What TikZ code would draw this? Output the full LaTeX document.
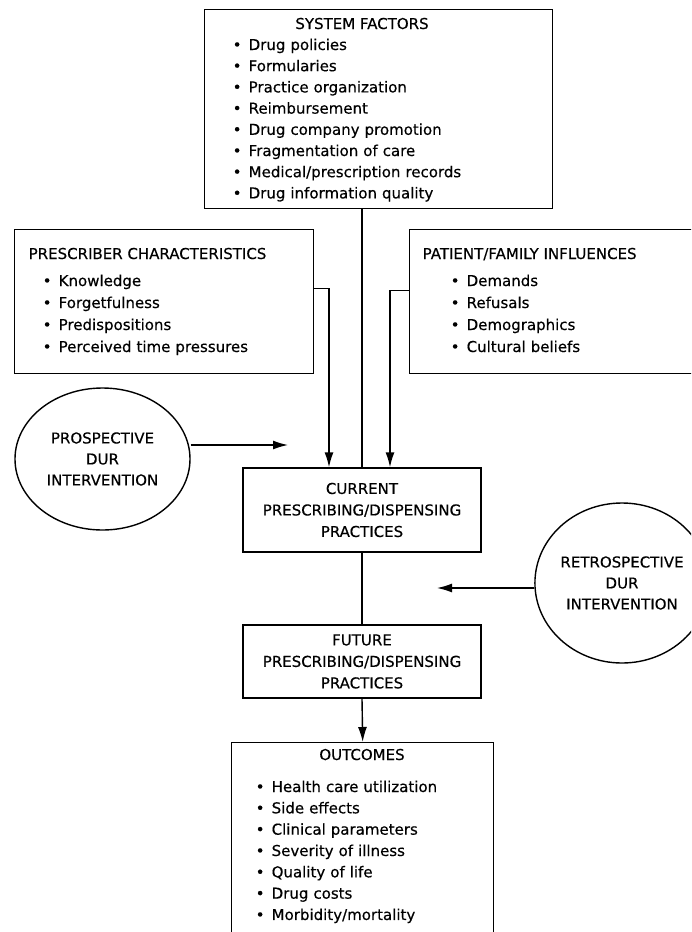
\documentclass[tikz,border=0pt]{standalone}
\usepackage{fontspec}
\setmainfont{DejaVu Sans}[FakeBold=0.4]
\usetikzlibrary{shapes.geometric,arrows.meta}
\newcommand{\bul}{\makebox[16pt][l]{\textbullet}}

\begin{document}
\begin{tikzpicture}[x=1pt,y=-1pt,line width=1.4pt,
  box/.style={draw,rectangle,anchor=north west,inner sep=0pt},
  proc/.style={draw,rectangle,align=center,minimum width=238pt,font=\fontsize{15}{21.5}\selectfont},
  oval/.style={draw,ellipse,align=center,inner sep=0pt,font=\fontsize{15}{21}\selectfont},
  head/.style={inner sep=0pt,font=\fontsize{15}{18}\selectfont},
  items/.style={inner sep=0pt,text width=250pt,align=left,anchor=base west,font=\fontsize{15}{21.2}\selectfont},
  arr/.style={-{Latex[length=15pt,width=9pt]}}]
\useasboundingbox (0,0) rectangle (691,932);
\clip (0,0) rectangle (691,932);
\node[box,minimum width=348pt,minimum height=199pt] (sys) at (204,9) {};
\node[head,anchor=base] (systitle) at (362,29) {SYSTEM FACTORS};
\node[items] (syslist) at (232,50) {\bul Drug policies\\ \bul Formularies\\ \bul Practice organization\\ \bul Reimbursement\\ \bul Drug company promotion\\ \bul Fragmentation of care\\ \bul Medical/prescription records\\ \bul Drug information quality};
\node[box,minimum width=299pt,minimum height=144pt] (presc) at (14,229) {};
\node[head,anchor=base west] (presctitle) at (28,259) {PRESCRIBER CHARACTERISTICS};
\node[items,font=\fontsize{15}{22}\selectfont] (presclist) at (42,286) {\bul Knowledge\\ \bul Forgetfulness\\ \bul Predispositions\\ \bul Perceived time pressures};
\node[box,minimum width=300pt,minimum height=144pt] (pat) at (409,229) {};
\node[head,anchor=base west] (pattitle) at (422,259) {PATIENT/FAMILY INFLUENCES};
\node[items,font=\fontsize{15}{22}\selectfont] (patlist) at (450,286) {\bul Demands\\ \bul Refusals\\ \bul Demographics\\ \bul Cultural beliefs};
\node[oval,minimum width=175pt,minimum height=142pt] (prosp) at (102.5,459) {PROSPECTIVE\\DUR\\INTERVENTION};
\node[proc,minimum height=84pt] (cur) at (362,510) {CURRENT\\PRESCRIBING/DISPENSING\\PRACTICES};
\node[oval,minimum width=158pt,minimum height=160pt] (retro) at (622,583) {RETROSPECTIVE\\DUR\\INTERVENTION};
\node[proc,minimum height=73pt] (fut) at (362,661.5) {FUTURE\\PRESCRIBING/DISPENSING\\PRACTICES};
\node[box,minimum width=262pt,minimum height=220pt] (out) at (231,742) {};
\node[head,anchor=base] (outtitle) at (362,760) {OUTCOMES};
\node[items,font=\fontsize{15}{21.33}\selectfont] (outlist) at (255,792) {\bul Health care utilization\\ \bul Side effects\\ \bul Clinical parameters\\ \bul Severity of illness\\ \bul Quality of life\\ \bul Drug costs\\ \bul Morbidity/mortality};
\coordinate (ptip) at (288,445);
\coordinate (rtip) at (437,588);
\draw (cur.north |- sys.south) -- (cur.north);
\draw[arr] ([yshift=13pt]presc.east) -| ([xshift=-33pt]cur.north);
\draw[arr] ([yshift=11pt]pat.west) -| ([xshift=28pt]cur.north);
\draw[arr] (ptip -| prosp.east) -- (ptip);
\draw[arr] (rtip -| retro.west) -- (rtip);
\draw (cur.south) -- (fut.north);
\draw[arr] (fut.south) -- (out.north);
\end{tikzpicture}
\end{document}
